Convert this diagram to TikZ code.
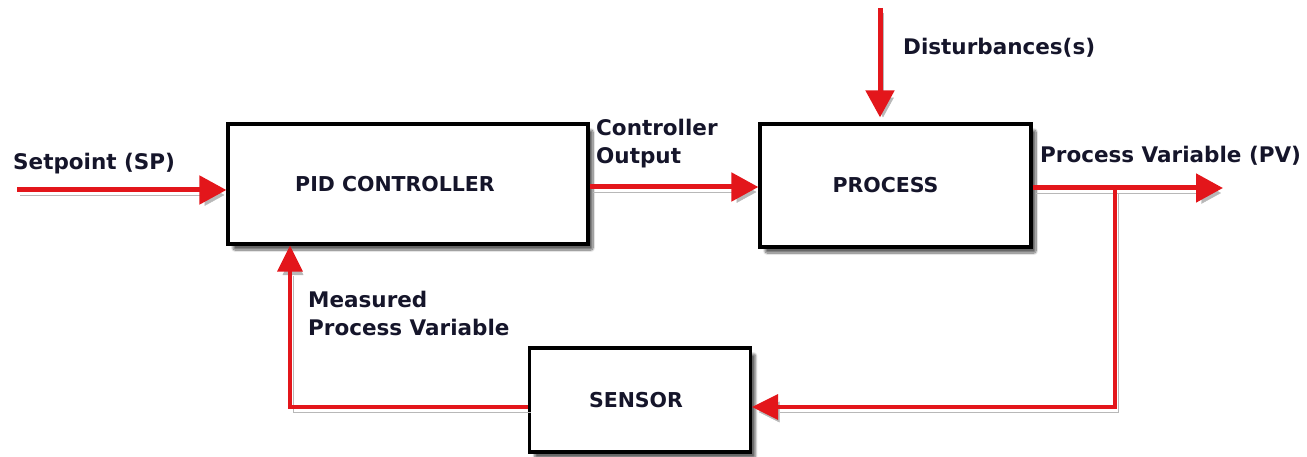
\documentclass[tikz,border=0pt]{standalone}
\usepackage{fontspec}
\setmainfont{DejaVu Sans}
\usepackage{tikz}
\usetikzlibrary{arrows.meta, positioning, shadows.blur}
\usepackage{xcolor}
\definecolor{rr}{HTML}{E3161B}
\definecolor{ink}{HTML}{15152A}

\begin{document}
\begin{tikzpicture}[x=1pt, y=-1pt, font=\bfseries\fontsize{21.5}{28}\selectfont, text=ink,
    box/.style={draw=black, line width=3.2pt, fill=white, minimum width=#1, align=center, inner sep=0pt,
      font=\bfseries\fontsize{20.5}{24}\selectfont,
      blur shadow={shadow xshift=5pt, shadow yshift=-6pt, shadow blur steps=10, shadow blur extra rounding=2pt, shadow opacity=60}},
    lbl/.style={inner sep=0pt, align=left},
    ghost/.style={preaction={draw=black!28, transform canvas={xshift=3pt, yshift=-5pt}}},
    flow/.style={draw=rr, line width=5pt, ghost, -{Triangle[length=27pt, width=28pt]}},
    back/.style={draw=rr, line width=3.5pt, ghost, -{Triangle[length=26pt, width=25pt]}}]
  \useasboundingbox (0,0) rectangle (1307,457);

  \node[box=360pt, minimum height=120pt] (pid) at (408,184) {PID CONTROLLER\hspace*{26pt}};
  \node[box=271pt, minimum height=123pt] (proc) at (895.5,185.5) {PROCESS\hspace*{20pt}};
  \node[box=221pt, minimum height=104pt] (sens) at (640,400) {SENSOR\hspace*{8pt}};

  \coordinate (spin) at (17,190);
  \coordinate (dist) at (880,8);
  \coordinate (pvout) at (1223,188);
  \coordinate (tap) at (1115,188);

  \node[lbl, anchor=base west] (splbl) at (13,170) {Setpoint (SP)};
  \node[lbl, anchor=north west] (colbl) at (596,119) {Controller\\Output};
  \node[lbl, anchor=base west] (dlbl) at (903,55) {Disturbances(s)};
  \node[lbl, anchor=base west] (pvlbl) at (1040,163) {Process Variable (PV)};
  \node[lbl, anchor=north west] (mlbl) at (308,291) {Measured\\Process Variable};

  \draw[flow] (spin) -- (spin -| pid.west);
  \draw[flow] ([yshift=-3pt]pid.east) -- ([yshift=-3pt]pid.east -| proc.west);
  \draw[flow, shorten >=5pt] (dist) -- (dist |- proc.north);
  \draw[flow] (proc.east |- pvout) -- (pvout);
  \draw[back] (tap) |- ([yshift=-7pt]sens.east);
  \draw[back] ([yshift=-7pt]sens.west) -| ([xshift=-118pt]pid.south);
\end{tikzpicture}
\end{document}
